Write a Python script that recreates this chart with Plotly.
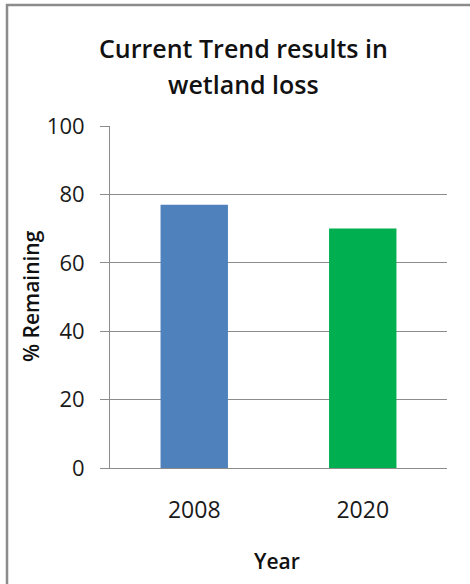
import plotly.graph_objects as go

# Data
years = ["2008", "2020"]
remaining = [77, 70]
bar_colors = ["#4F81BD", "#00B050"]
y_ticks = [0, 20, 40, 60, 80, 100]

W, H = 470, 584
L, R, T, B = 110, 23, 126, 116
pw, ph = W - L - R, H - T - B


def px_x(x):
    return (x - L) / pw


def px_y(y):
    return (H - B - y) / ph


FONT = "Open Sans"
GRID = "#8c8c8c"
TEXT = "#1a1a1a"

fig = go.Figure(
    go.Bar(
        x=years,
        y=remaining,
        marker=dict(color=bar_colors, line=dict(width=0)),
        width=0.4,
    )
)

fig.update_layout(
    width=W,
    height=H,
    margin=dict(l=L, r=R, t=T, b=B),
    paper_bgcolor="white",
    plot_bgcolor="white",
    showlegend=False,
    font=dict(family=FONT, color=TEXT),
)

fig.update_yaxes(
    range=[0, 100],
    tickvals=y_ticks,
    showgrid=True,
    gridcolor=GRID,
    gridwidth=1,
    showline=True,
    linecolor=GRID,
    linewidth=1,
    ticks="outside",
    ticklen=9,
    tickcolor=GRID,
    tickfont=dict(size=22, family=FONT, color=TEXT),
    ticklabelstandoff=11,
    zeroline=False,
    fixedrange=True,
)
fig.update_xaxes(
    showline=True,
    linecolor=GRID,
    linewidth=1,
    ticks="",
    tickfont=dict(size=23, family=FONT, color=TEXT),
    ticklabelstandoff=21,
    fixedrange=True,
)

# Chart frame (left and top edges)
fig.add_shape(
    type="path",
    xref="paper",
    yref="paper",
    path=f"M {px_x(7)} {px_y(590)} L {px_x(7)} {px_y(5)} L {px_x(475)} {px_y(5)}",
    line=dict(color="#8c8c8c", width=2.5),
)

# Title lines
title_font = dict(size=25, family=FONT, color="#111111", weight=600)
fig.add_annotation(
    text="Current Trend results in",
    xref="paper", yref="paper",
    x=px_x(243), y=px_y(48),
    showarrow=False, xanchor="center", yanchor="middle",
    font=title_font,
)
fig.add_annotation(
    text="wetland loss",
    xref="paper", yref="paper",
    x=px_x(243), y=px_y(84),
    showarrow=False, xanchor="center", yanchor="middle",
    font=title_font,
)

# Axis titles
axis_title_font = dict(size=21, family=FONT, color="#111111", weight=600)
fig.add_annotation(
    text="% Remaining",
    xref="paper", yref="paper",
    x=px_x(31), y=px_y(296),
    showarrow=False, xanchor="center", yanchor="middle",
    textangle=-90,
    font=axis_title_font,
)
fig.add_annotation(
    text="Year",
    xref="paper", yref="paper",
    x=px_x(277), y=px_y(561),
    showarrow=False, xanchor="center", yanchor="middle",
    font=axis_title_font,
)

fig.write_html("out.html")
